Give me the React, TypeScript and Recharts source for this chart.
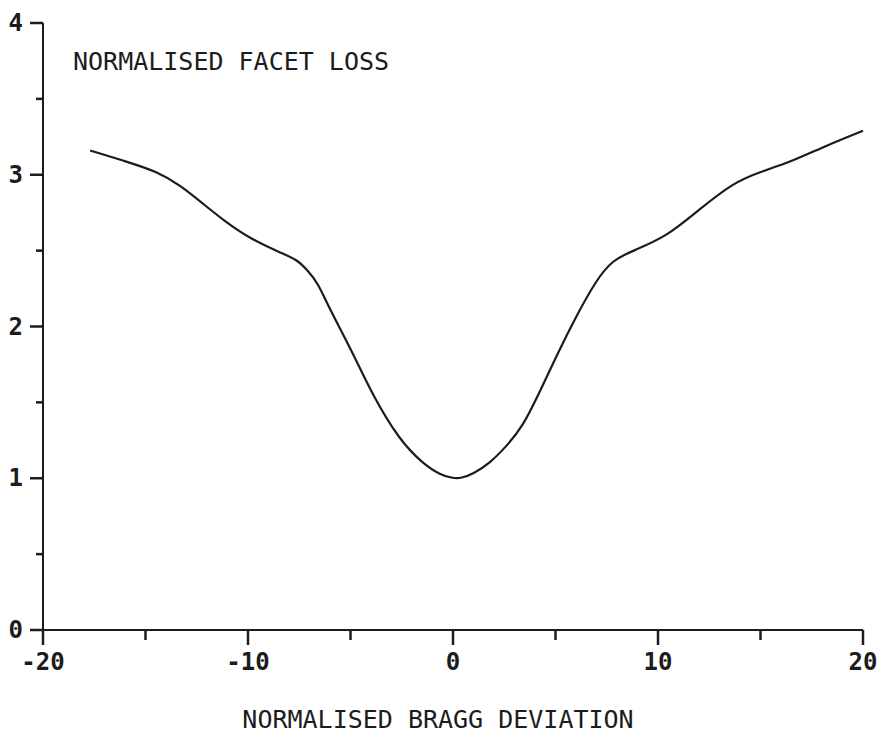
import { Line, LineChart, XAxis, YAxis } from "recharts";

// normalised Bragg deviation (x) against normalised facet loss (y)
const deviation = [
  -17.7, -16, -14.4, -13.3, -12.2, -11.2, -9.8, -8.3, -7.6, -7.1, -6.6, -6.0, -4.9, -3.9, -2.6,
  -1.5, -0.6, 0, 0.4, 1.0, 1.8, 2.6, 3.4, 4.2, 5.1, 5.9, 7.0, 7.8, 8.8, 10.4, 12.0, 13.7, 15,
  16.4, 18.0, 20,
];
const facetLoss = [
  3.16, 3.09, 3.02, 2.93, 2.81, 2.7, 2.57, 2.48, 2.44, 2.37, 2.29, 2.11, 1.83, 1.54, 1.25,
  1.1, 1.02, 1.0, 1.0, 1.03, 1.1, 1.21, 1.34, 1.56, 1.82, 2.04, 2.31, 2.44, 2.5, 2.59, 2.77,
  2.95, 3.02, 3.08, 3.18, 3.29,
];

const xTicks = [-20, -15, -10, -5, 0, 5, 10, 15, 20];
const yTicks = [0, 0.5, 1, 1.5, 2, 2.5, 3, 3.5, 4];

const FONT = "'DejaVu Sans Mono', 'Liberation Mono', monospace";
const INK = "#1c1c1c";

const data = deviation.map((d, i) => ({ d, loss: facetLoss[i] }));

function XTick({ x, y, payload }: any) {
  const major = payload.value % 10 === 0;
  return (
    <g>
      <line x1={x} x2={x} y1={y} y2={y + (major ? 15 : 10)} stroke={INK} strokeWidth={2.5} />
      {major && (
        <text x={x} y={y + 40} textAnchor="middle" fontFamily={FONT} fontSize={24} fontWeight="bold" fill={INK}>
          {payload.value}
        </text>
      )}
    </g>
  );
}

function YTick({ x, y, payload }: any) {
  const major = Number.isInteger(payload.value);
  return (
    <g>
      <line x1={x - (major ? 13 : 7)} x2={x} y1={y} y2={y} stroke={INK} strokeWidth={2.5} />
      {major && (
        <text x={x - 20} y={y + 8} textAnchor="end" fontFamily={FONT} fontSize={24} fontWeight="bold" fill={INK}>
          {payload.value}
        </text>
      )}
    </g>
  );
}

export default function App() {
  return (
    <div style={{ position: "absolute", left: 0, top: 0, width: 879, height: 735, background: "#fff" }}>
      <LineChart width={879} height={735} data={data} margin={{ top: 23, right: 16, bottom: 0, left: 0 }}>
        <XAxis
          dataKey="d"
          type="number"
          domain={[-20, 20]}
          ticks={xTicks}
          interval={0}
          height={105}
          tickSize={0}
          tickMargin={0}
          tickLine={false}
          tick={<XTick />}
          axisLine={{ stroke: INK, strokeWidth: 2 }}
          label={{
            value: "NORMALISED BRAGG DEVIATION",
            position: "insideBottom",
            offset: 7,
            dx: -15,
            style: { fontFamily: FONT, fontSize: 25, fill: INK },
          }}
        />
        <YAxis
          type="number"
          domain={[0, 4]}
          ticks={yTicks}
          interval={0}
          width={43}
          tickSize={0}
          tickMargin={0}
          tickLine={false}
          tick={<YTick />}
          axisLine={{ stroke: INK, strokeWidth: 2 }}
        />
        <text x={73} y={70} fontFamily={FONT} fontSize={25} fill={INK}>
          NORMALISED FACET LOSS
        </text>
        {/* B-spline through the sampled loss values gives the smooth plotter trace */}
        <Line
          dataKey="loss"
          type="basis"
          stroke={INK}
          strokeWidth={2.2}
          dot={false}
          isAnimationActive={false}
        />
      </LineChart>
    </div>
  );
}
